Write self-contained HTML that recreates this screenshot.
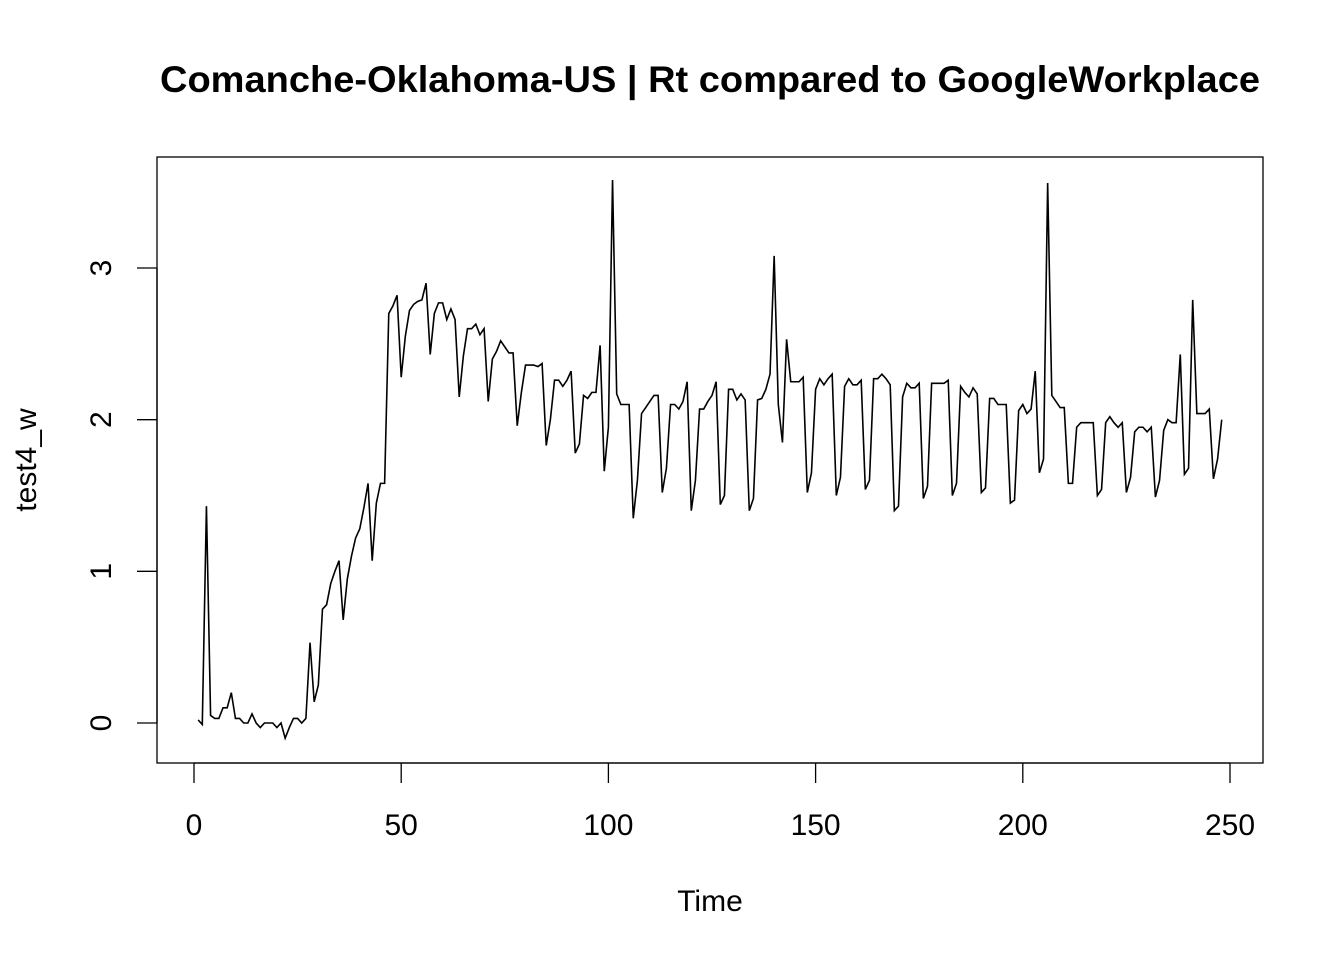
<!DOCTYPE html>
<html><head><meta charset="utf-8"><style>
body{margin:0;background:#fff;}
svg text{font-family:"Liberation Sans",Arial,sans-serif;fill:#000;}
</style></head><body>
<svg width="1344" height="960">
<text x="710" y="92" text-anchor="middle" font-size="37" font-weight="bold" textLength="1100" lengthAdjust="spacingAndGlyphs">Comanche-Oklahoma-US | Rt compared to GoogleWorkplace</text>
<rect x="157" y="157" width="1106" height="606" fill="none" stroke="#000" stroke-width="1.3"/>
<g id="xaxis"></g>
<g id="yaxis"></g>
<text x="710" y="911" text-anchor="middle" font-size="30">Time</text>
<text x="0" y="0" transform="translate(36,460) rotate(-90)" text-anchor="middle" font-size="30">test4_w</text>
<path id="series" fill="none" stroke="#000" stroke-width="1.6"/>
</svg>
<script>
const startTime = 1;
const values = [0.02,-0.01,1.43,0.05,0.03,0.03,0.1,0.1,0.2,0.03,0.03,0,0,0.06,0,-0.03,0,0,0,-0.03,0,-0.1,-0.03,0.03,0.03,0,0.03,0.53,0.14,0.25,0.75,0.78,0.92,1.0,1.07,0.68,0.95,1.1,1.22,1.28,1.42,1.58,1.07,1.45,1.58,1.58,2.7,2.75,2.82,2.28,2.55,2.72,2.76,2.78,2.79,2.9,2.43,2.7,2.77,2.77,2.66,2.73,2.66,2.15,2.42,2.6,2.6,2.63,2.56,2.6,2.12,2.4,2.45,2.52,2.48,2.44,2.44,1.96,2.18,2.36,2.36,2.36,2.35,2.37,1.83,2.0,2.26,2.26,2.22,2.26,2.32,1.78,1.84,2.16,2.14,2.18,2.18,2.49,1.66,1.95,3.58,2.17,2.1,2.1,2.1,1.35,1.6,2.04,2.08,2.12,2.16,2.16,1.52,1.68,2.1,2.1,2.07,2.12,2.25,1.4,1.6,2.07,2.07,2.12,2.16,2.25,1.44,1.5,2.2,2.2,2.13,2.17,2.13,1.4,1.48,2.13,2.14,2.2,2.3,3.08,2.1,1.85,2.53,2.25,2.25,2.25,2.28,1.52,1.65,2.2,2.27,2.23,2.27,2.3,1.5,1.62,2.22,2.27,2.23,2.23,2.26,1.54,1.6,2.27,2.27,2.3,2.27,2.23,1.4,1.43,2.15,2.24,2.21,2.21,2.24,1.48,1.56,2.24,2.24,2.24,2.24,2.26,1.5,1.58,2.22,2.18,2.15,2.21,2.17,1.52,1.55,2.14,2.14,2.1,2.1,2.1,1.45,1.47,2.06,2.1,2.04,2.07,2.32,1.65,1.74,3.56,2.16,2.12,2.08,2.08,1.58,1.58,1.95,1.98,1.98,1.98,1.98,1.5,1.54,1.98,2.02,1.98,1.95,1.98,1.52,1.62,1.92,1.95,1.95,1.92,1.95,1.49,1.6,1.93,2.0,1.98,1.98,2.43,1.64,1.68,2.79,2.04,2.04,2.04,2.07,1.61,1.74,2.0];
const xTicks = [0,50,100,150,200,250];
const yTicks = [0,1,2,3];
const X = t => 194 + (t - 0) * (1230 - 194) / 250;
const Y = v => 723 - v * (723 - 268) / 3;
const NS = "http://www.w3.org/2000/svg";
let d = "";
values.forEach((v,i)=>{ d += (i? "L":"M") + X(startTime+i).toFixed(2) + "," + Y(v).toFixed(2); });
document.getElementById("series").setAttribute("d", d);
const xa = document.getElementById("xaxis");
const xl = document.createElementNS(NS,"line");
xl.setAttribute("x1",X(xTicks[0]));xl.setAttribute("x2",X(xTicks[xTicks.length-1]));xl.setAttribute("y1",763);xl.setAttribute("y2",763);xl.setAttribute("stroke","#000");xl.setAttribute("stroke-width","1.3");


xa.appendChild(xl);
xTicks.forEach(t=>{
  const l = document.createElementNS(NS,"line");
  l.setAttribute("x1",X(t));l.setAttribute("x2",X(t));l.setAttribute("y1",763);l.setAttribute("y2",783);l.setAttribute("stroke","#000");l.setAttribute("stroke-width","1.3");
  
  
  xa.appendChild(l);
  const tx = document.createElementNS(NS,"text");
  tx.setAttribute("x",X(t));tx.setAttribute("y",835);tx.setAttribute("text-anchor","middle");tx.setAttribute("font-size","30");
  tx.textContent = t;
  
  
  xa.appendChild(tx);
});
const ya = document.getElementById("yaxis");
const yl = document.createElementNS(NS,"line");
yl.setAttribute("x1",157);yl.setAttribute("x2",157);yl.setAttribute("y1",Y(yTicks[0]));yl.setAttribute("y2",Y(yTicks[yTicks.length-1]));yl.setAttribute("stroke","#000");yl.setAttribute("stroke-width","1.3");


ya.appendChild(yl);
yTicks.forEach(v=>{
  const l = document.createElementNS(NS,"line");
  l.setAttribute("x1",137);l.setAttribute("x2",157);l.setAttribute("y1",Y(v));l.setAttribute("y2",Y(v));l.setAttribute("stroke","#000");l.setAttribute("stroke-width","1.3");
  
  
  ya.appendChild(l);
  const tx = document.createElementNS(NS,"text");
  tx.setAttribute("transform","translate(111,"+Y(v)+") rotate(-90)");tx.setAttribute("text-anchor","middle");tx.setAttribute("font-size","30");
  tx.textContent = v;
  
  
  ya.appendChild(tx);
});
</script>
</body></html>
